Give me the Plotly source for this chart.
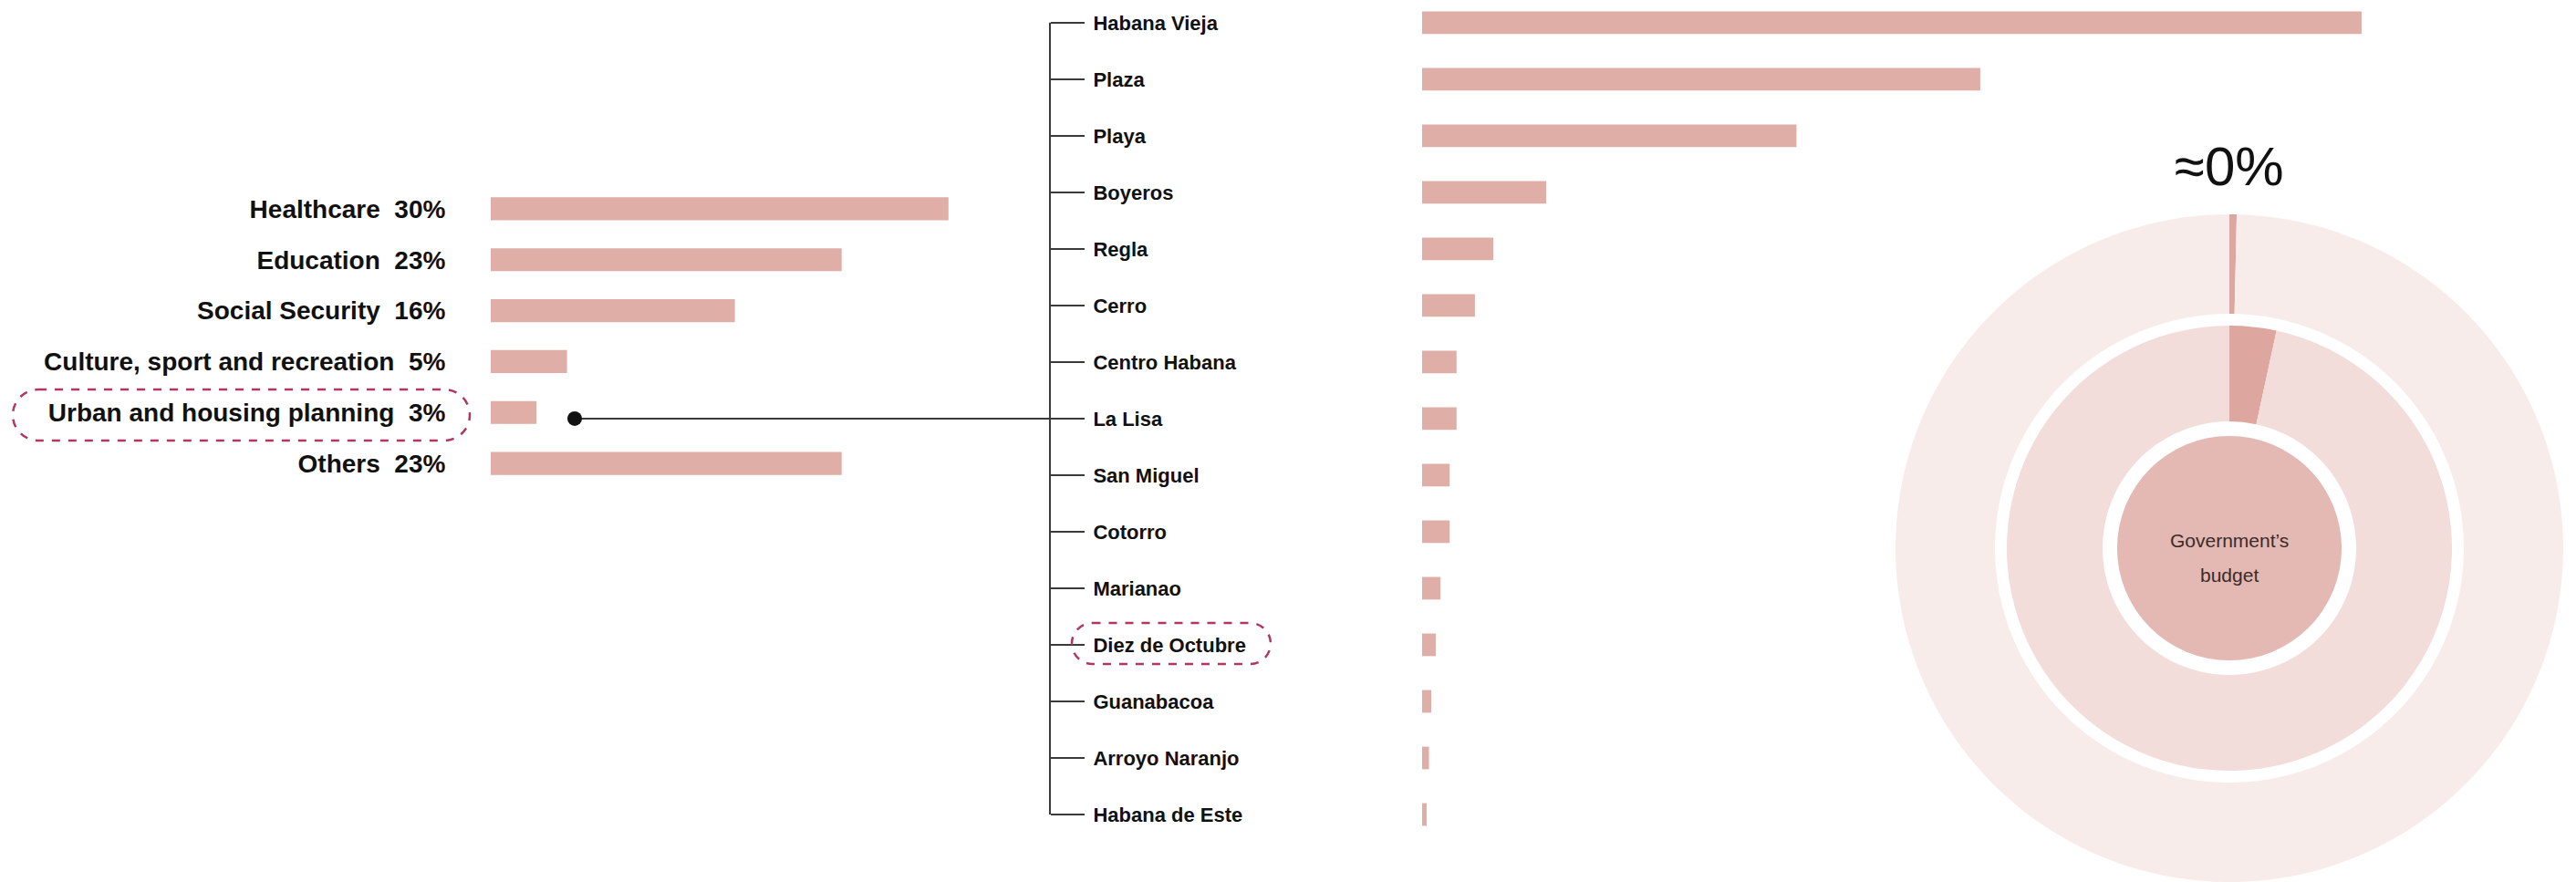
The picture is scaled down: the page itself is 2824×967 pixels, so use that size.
import plotly.graph_objects as go

# ---------------- data ----------------
sectors = ["Healthcare", "Education", "Social Security",
           "Culture, sport and recreation", "Urban and housing planning", "Others"]
sector_share = [30, 23, 16, 5, 3, 23]

districts = ["Habana Vieja", "Plaza", "Playa", "Boyeros", "Regla", "Cerro",
             "Centro Habana", "La Lisa", "San Miguel", "Cotorro", "Marianao",
             "Diez de Octubre", "Guanabacoa", "Arroyo Naranjo", "Habana de Este"]
district_share = [40.9, 24.3, 16.3, 5.4, 3.1, 2.3, 1.5, 1.5, 1.2, 1.2, 0.8,
                  0.6, 0.4, 0.3, 0.2]

budget_ring_labels = ["Urban and housing planning", "Rest of budget"]
budget_ring_values = [3.4, 96.6]
district_ring_labels = ["Diez de Octubre", "Rest"]
district_ring_values = [0.35, 99.65]
center_label = ["Government\u2019s", "budget"]
approx_label = "\u22480%"

# ---------------- styling ----------------
W, H = 2824, 967
BAR = "#DFAEA7"
SLICE = "#DDA7A0"
OUTER = "#F8ECEB"
MIDDLE = "#F2DDDB"
INNER = "#E4B8B3"
DASH = "#B0375D"
LINE = "#3a3a3a"
SANS = "Liberation Sans, Arial, sans-serif"


def px(x):
    return x / W


def py(y):
    return 1 - y / H


fig = go.Figure()

# left: budget by sector
fig.add_trace(go.Bar(
    x=sector_share, y=sectors, orientation="h", xaxis="x", yaxis="y",
    marker=dict(color=BAR, line=dict(width=0)), width=0.45,
    hoverinfo="skip", showlegend=False))

# middle: districts
fig.add_trace(go.Bar(
    x=district_share, y=districts, orientation="h", xaxis="x2", yaxis="y2",
    marker=dict(color=BAR, line=dict(width=0)), width=0.40,
    hoverinfo="skip", showlegend=False))

# right: rings
cx, cy = 2444, 601
cyb = H - cy
r_out, r_mid, r_in = 366, 244, 123


def dom(r):
    return dict(x=[px(cx - r), px(cx + r)], y=[(cyb - r) / H, (cyb + r) / H])


fig.add_trace(go.Pie(
    labels=district_ring_labels, values=district_ring_values, hole=257 / r_out,
    domain=dom(r_out), sort=False, direction="clockwise", rotation=0,
    marker=dict(colors=[SLICE, OUTER], line=dict(width=0)),
    textinfo="none", hoverinfo="skip", showlegend=False))
fig.add_trace(go.Pie(
    labels=budget_ring_labels, values=budget_ring_values, hole=139 / r_mid,
    domain=dom(r_mid), sort=False, direction="clockwise", rotation=0,
    marker=dict(colors=[SLICE, MIDDLE], line=dict(width=0)),
    textinfo="none", hoverinfo="skip", showlegend=False))
fig.add_trace(go.Pie(
    labels=["Government's budget"], values=[100], hole=0,
    domain=dom(r_in), sort=False,
    marker=dict(colors=[INNER], line=dict(width=0)),
    textinfo="none", hoverinfo="skip", showlegend=False))

# axes
y1_top, y1_bot = 201, 536
y2_bot = 924
left_ticks = [f"{s}\u00a0\u00a0{v}%" for s, v in zip(sectors, sector_share)]

fig.update_layout(
    width=W, height=H, margin=dict(l=0, r=0, t=0, b=0, autoexpand=False),
    paper_bgcolor="white", plot_bgcolor="rgba(0,0,0,0)",
    xaxis=dict(domain=[px(538), px(1100)], range=[0, 33.6], visible=False,
               anchor="y", automargin=False),
    yaxis=dict(domain=[py(y1_bot), py(y1_top)], anchor="x",
               autorange="reversed", categoryorder="array",
               categoryarray=sectors, tickmode="array", tickvals=sectors,
               ticktext=left_ticks, ticks="outside", ticklen=43,
               tickcolor="rgba(0,0,0,0)", showline=False, showgrid=False,
               zeroline=False, automargin=False,
               tickfont=dict(family=SANS, size=28, color="#111", weight=700)),
    xaxis2=dict(domain=[px(1559), px(2599)], range=[0, 41.3], visible=False,
                anchor="y2", automargin=False),
    yaxis2=dict(domain=[py(y2_bot), 1], anchor="free", position=px(1151),
                side="right", range=[14.5, -0.4], categoryorder="array",
                categoryarray=districts, ticks="outside", ticklen=37,
                tickwidth=2, tickcolor=LINE, showline=False, showgrid=False,
                zeroline=False, automargin=False, ticklabelstandoff=5,
                tickfont=dict(family=SANS, size=22, color="#111", weight=700)),
)

shapes = []
# tree trunk
shapes.append(dict(type="line", xref="paper", yref="y2", x0=px(1151), x1=px(1151),
                   y0=districts[0], y1=districts[-1],
                   line=dict(color=LINE, width=2)))
# connector from sector chart to La Lisa
shapes.append(dict(type="line", xref="paper", yref="y2", x0=px(630), x1=px(1151),
                   y0="La Lisa", y1="La Lisa", line=dict(color=LINE, width=2)))
shapes.append(dict(type="circle", xref="paper", yref="y2", xsizemode="pixel",
                   ysizemode="pixel", xanchor=px(630), yanchor="La Lisa",
                   x0=-8, x1=8, y0=-8, y1=8,
                   fillcolor="#111", line=dict(color="#111", width=0)))


def stadium(x0, y0, x1, y1):
    r = (y1 - y0) / 2
    k = 0.5523 * r
    pts = [
        f"M{px(x0 + r)},{py(y0)}",
        f"L{px(x1 - r)},{py(y0)}",
        f"C{px(x1 - r + k)},{py(y0)} {px(x1)},{py(y0 + r - k)} {px(x1)},{py(y0 + r)}",
        f"C{px(x1)},{py(y0 + r + k)} {px(x1 - r + k)},{py(y1)} {px(x1 - r)},{py(y1)}",
        f"L{px(x0 + r)},{py(y1)}",
        f"C{px(x0 + r - k)},{py(y1)} {px(x0)},{py(y0 + r + k)} {px(x0)},{py(y0 + r)}",
        f"C{px(x0)},{py(y0 + r - k)} {px(x0 + r - k)},{py(y0)} {px(x0 + r)},{py(y0)}",
        "Z",
    ]
    return " ".join(pts)


for box in [(14, 427, 515, 483), (1175, 683, 1393, 728)]:
    shapes.append(dict(type="path", xref="paper", yref="paper", path=stadium(*box),
                       line=dict(color=DASH, width=2.5, dash="dash"),
                       fillcolor="rgba(0,0,0,0)"))
fig.update_layout(shapes=shapes)

annotations = [
    dict(text=approx_label, x=px(cx), y=py(182), xref="paper", yref="paper",
         showarrow=False, xanchor="center", yanchor="middle",
         font=dict(family=SANS, size=60, color="#111")),
    dict(text=center_label[0], x=px(cx), y=py(592), xref="paper", yref="paper",
         showarrow=False, xanchor="center", yanchor="middle",
         font=dict(family=SANS, size=21, color="#3b2b2b")),
    dict(text=center_label[1], x=px(cx), y=py(630), xref="paper", yref="paper",
         showarrow=False, xanchor="center", yanchor="middle",
         font=dict(family=SANS, size=21, color="#3b2b2b")),
]
fig.update_layout(annotations=annotations)

fig.write_html("out.html", config={"displayModeBar": False},
               post_script="document.body.style.margin='0px';")
